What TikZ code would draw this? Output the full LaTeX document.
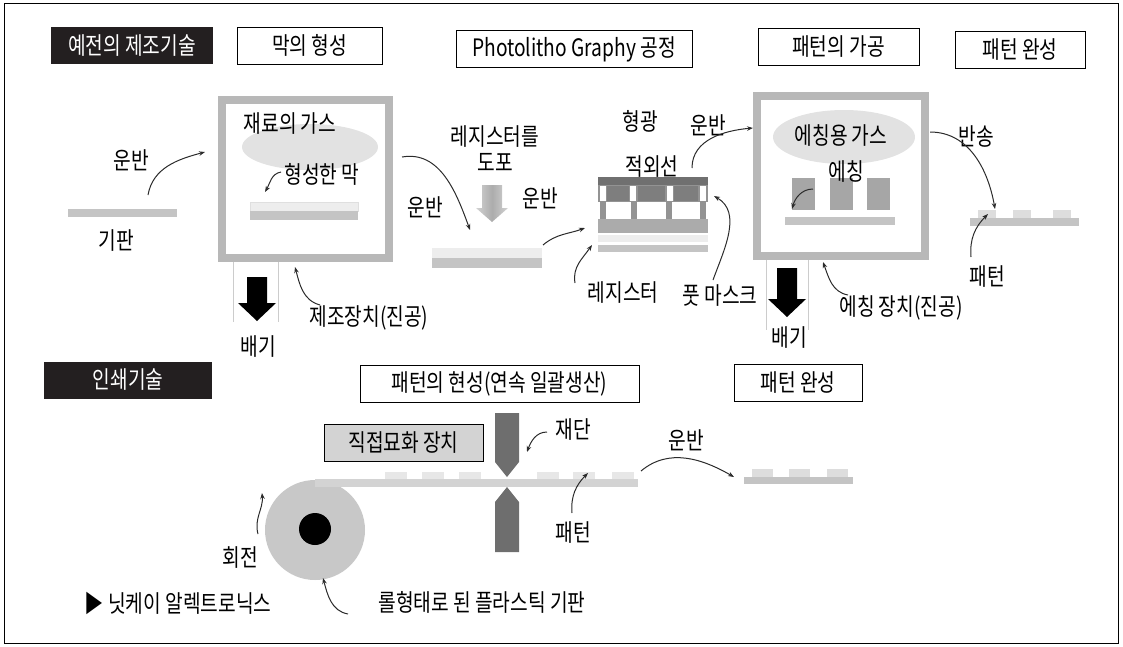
\documentclass[tikz,border=0pt]{standalone}
\usepackage{fontspec}
\usepackage{tikz}
\usetikzlibrary{arrows.meta}
\setmainfont{Noto Sans CJK KR}[FakeStretch=0.8]

\definecolor{titleblack}{HTML}{231F20}
\definecolor{framegray}{HTML}{B8B8B8}
\definecolor{gasgray}{HTML}{E2E2E2}
\definecolor{subgray}{HTML}{C4C4C4}
\definecolor{filmlight}{HTML}{EDEDED}
\definecolor{maskdark}{HTML}{707070}
\definecolor{maskmid}{HTML}{939393}
\definecolor{resistgray}{HTML}{ABABAB}
\definecolor{blockgray}{HTML}{A6A6A6}
\definecolor{patlight}{HTML}{DDDDDD}
\definecolor{rollgray}{HTML}{C8C8C8}
\definecolor{bladegray}{HTML}{6E6E6E}
\definecolor{boxgray}{HTML}{D3D3D3}
\definecolor{arrowgray}{HTML}{2B2B2B}
\definecolor{linegray}{HTML}{CCCCCC}

\tikzset{
  txt/.style={inner sep=0pt, font=\fontsize{24}{26}\selectfont},
  titlebox/.style={draw, line width=0.8pt, fill=white, minimum height=37pt, inner sep=0pt, font=\fontsize{24}{26}\selectfont},
  darkbox/.style={fill=titleblack, text=white, minimum height=37pt, inner sep=0pt, font=\fontsize{24}{26}\selectfont},
  curvy/.style={-{Stealth[length=6pt,width=4.5pt]}, line width=1pt, draw=arrowgray},
}

\begin{document}
\begin{tikzpicture}[x=1pt,y=1pt]
        \useasboundingbox (0,0) rectangle (1123,-646);
        \draw[line width=1pt] (4,-3) rectangle (1118,-643);

        % Title boxes
        \node[darkbox, minimum width=162pt] (old) at (132,-45.5) {예전의 제조기술};
        \node[titlebox, minimum width=145pt] (film) at (309.5,-45.5) {막의 형성};
        \node[titlebox, minimum width=236pt] (photo) at (574,-49) {Photolitho Graphy 공정};
        \node[titlebox, minimum width=161pt] (etch) at (838.5,-47) {패턴의 가공};
        \node[titlebox, minimum width=130pt] (done) at (1020,-50) {패턴 완성};
        \node[darkbox, minimum width=168pt] (print) at (128,-380) {인쇄기술};
        \node[titlebox, minimum width=279pt] (develop) at (499.5,-383.5) {패턴의 현성(연속 일괄생산)};
        \node[titlebox, minimum width=128pt] (done2) at (798,-382.5) {패턴 완성};
        \node[titlebox, fill=boxgray, minimum width=159pt] (direct) at (403.5,-443) {직접묘화 장치};

        % Film chamber
        \fill[gasgray] (310,-147) ellipse [x radius=68, y radius=23];
        \draw[framegray, line width=8pt] (222,-100) rectangle (389,-258);
        \fill[filmlight] (250,-202) rectangle (358,-211);
        \draw[gray!25] (250,-202) rectangle (358,-211);
        \fill[subgray] (250,-211) rectangle (358,-220);
        \fill[subgray] (68,-209) rectangle (177,-217);
        \draw[linegray, line width=0.8pt] (233,-262) -- (233,-322);
        \draw[linegray, line width=0.8pt] (278,-262) -- (278,-322);
        \fill[black] (247,-277) -- (267,-277) -- (267,-303) -- (276,-303) -- (257,-321) -- (238,-303) -- (247,-303) -- cycle;

        % Resist coating
        \shade[left color=gray!35, right color=gray!35, middle color=gray!65] (482,-185) -- (502,-185) -- (502,-208) -- (508,-208) -- (492,-222) -- (476,-208) -- (482,-208) -- cycle;
        \fill[filmlight] (432,-248) rectangle (542,-258);
        \fill[subgray] (432,-258) rectangle (542,-268);

        % Mask stack
        \fill[maskdark] (598,-177) rectangle (708,-185);
        \fill[maskmid] (598,-185) rectangle (708,-202);
        \foreach \x in {600,630,667,700}
            \fill[white] (\x,-186) rectangle (\x+6,-201);
        \foreach \a/\b in {607/629,638/665,674/698}
            \fill[maskdark!90] (\a,-186) rectangle (\b,-201);
        \foreach \x in {600,631,666,700}
            \fill[maskmid] (\x,-202) rectangle (\x+6,-219);
        \fill[resistgray] (598,-219) rectangle (708,-233);
        \fill[filmlight] (598,-235) rectangle (708,-242);
        \fill[subgray] (598,-245) rectangle (708,-252);

        % Etching chamber
        \fill[gasgray] (844,-137) ellipse [x radius=71, y radius=27];
        \draw[framegray, line width=8pt] (757,-96) rectangle (925,-256);
        \foreach \x in {792,830,867}
            \fill[blockgray] (\x,-178) rectangle (\x+23,-210);
        \fill[subgray] (785,-217) rectangle (895,-225);
        \draw[linegray, line width=0.8pt] (766,-260) -- (766,-330);
        \draw[linegray, line width=0.8pt] (808,-260) -- (808,-330);
        \fill[black] (777,-268) -- (797,-268) -- (797,-299) -- (806,-299) -- (787,-317) -- (768,-299) -- (777,-299) -- cycle;

        % Finished pattern
        \fill[subgray] (970,-218) rectangle (1079,-226);
        \foreach \x in {978,1013,1053}
            \fill[patlight] (\x,-210) rectangle (\x+18,-218);

        % Roll and cutter
        \fill[rollgray] (315,-530) circle (50);
        \fill[rollgray!80] (315,-479) rectangle (638,-487);
        \fill[black] (315,-529) circle (16);
        \foreach \x in {385,422,459,537,573,612}
            \fill[patlight!70] (\x,-472) rectangle (\x+22,-479);
        \fill[bladegray] (495,-413) -- (519,-413) -- (519,-462) -- (507,-477) -- (495,-462) -- cycle;
        \fill[bladegray] (507,-487) -- (519,-502) -- (519,-552) -- (495,-552) -- (495,-502) -- cycle;
        \fill[subgray] (744,-477) rectangle (853,-484);
        \foreach \x in {752,789,827}
            \fill[patlight] (\x,-469) rectangle (\x+21,-477);

        % Labels
        \node[txt] (carry1) at (131,-160) {운반};
        \node[txt] (base) at (116,-241) {기판};
        \node[txt] (gas) at (290,-124) {재료의 가스};
        \node[txt] (layer) at (322,-174) {형성한 막};
        \node[txt] (vac1) at (369,-318) {제조장치(진공)};
        \node[txt] (out1) at (258,-347) {배기};
        \node[txt] (carry2) at (425,-207) {운반};
        \node[txt, align=center] (coat) at (495,-149) {레지스터를\\도포};
        \node[txt] (carry3) at (540,-198) {운반};
        \node[txt] (light) at (640,-121) {형광};
        \node[txt] (ir) at (652,-167) {적외선};
        \node[txt] (carry4) at (708,-125) {운반};
        \node[txt] (resist) at (623,-293) {레지스터};
        \node[txt] (mask) at (720,-296) {풋 마스크};
        \node[txt] (egas) at (841,-136) {에칭용 가스};
        \node[txt] (etching) at (846,-172) {에칭};
        \node[txt] (send) at (976,-136) {반송};
        \node[txt] (pat1) at (987,-277) {패턴};
        \node[txt] (vac2) at (901,-308) {에칭 장치(진공)};
        \node[txt] (out2) at (789,-338) {배기};
        \node[txt] (cut) at (573,-430) {재단};
        \node[txt] (pat2) at (573,-532) {패턴};
        \node[txt] (carry5) at (686,-440) {운반};
        \node[txt] (turn) at (240,-557) {회전};
        \node[txt] (roll) at (482,-602) {롤형태로 된 플라스틱 기판};
        \node[txt] (source) at (178,-603) {▶ 닛케이 알렉트로닉스};

        % Arrow ends
        \coordinate (a1s) at (148,-195);  \coordinate (a1e) at (205,-152);
        \coordinate (a2s) at (281,-172);  \coordinate (a2e) at (265,-192);
        \coordinate (a3s) at (320,-305);  \coordinate (a3e) at (295,-267);
        \coordinate (a4s) at (402,-157);  \coordinate (a4e) at (470,-230);
        \coordinate (a5s) at (543,-245);  \coordinate (a5e) at (585,-228);
        \coordinate (a6s) at (575,-283);  \coordinate (a6e) at (592,-245);
        \coordinate (a7s) at (713,-280);  \coordinate (a7e) at (714,-196);
        \coordinate (a8s) at (692,-168);  \coordinate (a8e) at (753,-128);
        \coordinate (a9s) at (813,-189);  \coordinate (a9e) at (792,-209);
        \coordinate (a10s) at (848,-295); \coordinate (a10e) at (823,-262);
        \coordinate (a11s) at (930,-132); \coordinate (a11e) at (995,-209);
        \coordinate (a12s) at (971,-257); \coordinate (a12e) at (988,-214);
        \coordinate (a13s) at (258,-534); \coordinate (a13e) at (262,-493);
        \coordinate (a14s) at (348,-614); \coordinate (a14e) at (323,-578);
        \coordinate (a15s) at (547,-432); \coordinate (a15e) at (527,-452);
        \coordinate (a16s) at (572,-513); \coordinate (a16e) at (588,-473);
        \coordinate (a17s) at (641,-471); \coordinate (a17e) at (734,-477);

        % Arrows
        \draw[curvy] (a1s) to[out=80, in=195] (a1e);
        \draw[curvy] (a2s) to[out=190, in=60] (a2e);
        \draw[curvy] (a3s) to[out=165, in=-75] (a3e);
        \draw[curvy] (a4s) to[out=10, in=110] (a4e);
        \draw[curvy] (a5s) to[out=40, in=200] (a5e);
        \draw[curvy] (a6s) to[out=100, in=235] (a6e);
        \draw[curvy] (a7s) to[out=70, in=-30] (a7e);
        \draw[curvy] (a8s) to[out=90, in=185] (a8e);
        \draw[curvy] (a9s) to[out=180, in=75] (a9e);
        \draw[curvy] (a10s) to[out=170, in=-70] (a10e);
        \draw[curvy] (a11s) to[out=0, in=100] (a11e);
        \draw[curvy] (a12s) to[out=95, in=225] (a12e);
        \draw[curvy] (a13s) to[out=105, in=-85] (a13e);
        \draw[curvy] (a14s) to[out=170, in=-75] (a14e);
        \draw[curvy] (a15s) to[out=180, in=70] (a15e);
        \draw[curvy] (a16s) to[out=95, in=225] (a16e);
        \draw[curvy] (a17s) to[out=40, in=150] (a17e);
\end{tikzpicture}
\end{document}
